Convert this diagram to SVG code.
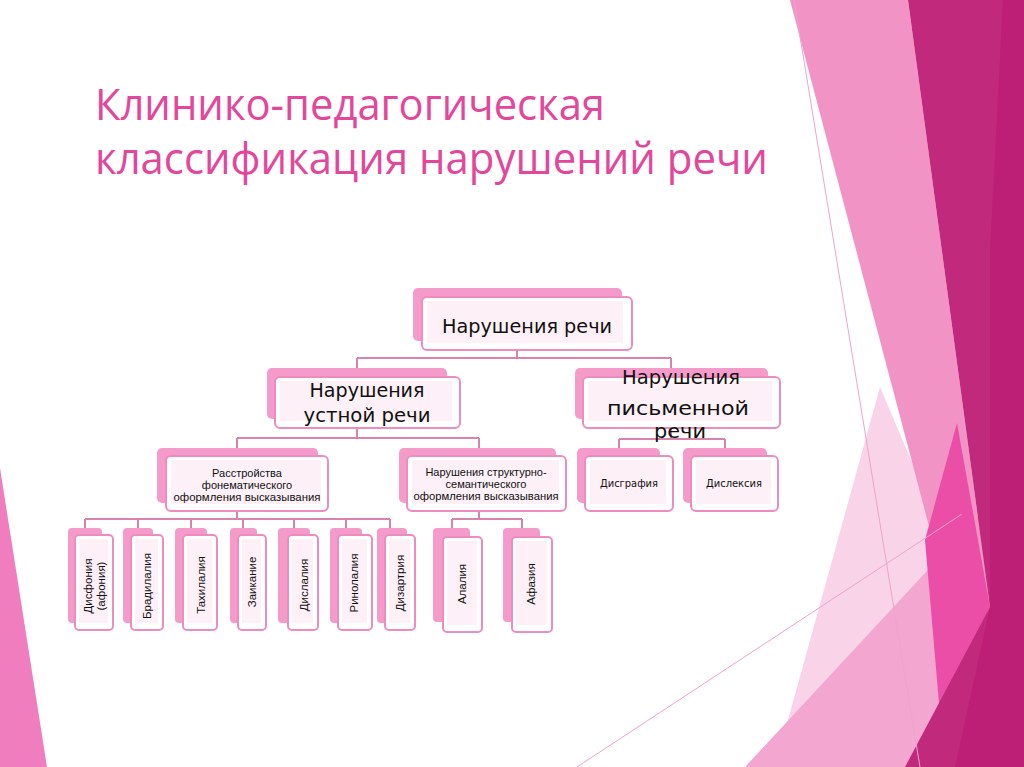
<svg xmlns="http://www.w3.org/2000/svg" width="1024" height="767" viewBox="0 0 1024 767">
<style>
.back{fill:#F49BC9}
.front{fill:#FFFFFF;stroke:#EE8CC2;stroke-width:2}
.inner{fill:#FDF0F7}
.conn{fill:none;stroke:#D883AE;stroke-width:2}
.big{font-family:"DejaVu Sans",sans-serif;font-size:19px;fill:#111;text-anchor:middle}
.mid{font-family:"Liberation Sans",Arial,sans-serif;font-size:11px;fill:#111;text-anchor:middle}
.mid2{font-family:"DejaVu Sans",sans-serif;font-size:10.5px;fill:#111;text-anchor:middle}
.leaf{font-family:"Liberation Sans",Arial,sans-serif;font-size:11.5px;fill:#111;text-anchor:middle}
.title{font-family:"Open Sans",sans-serif;font-size:43px;fill:#E2479C}
</style>
<rect width="1024" height="767" fill="#FFFFFF"/>
<g id="background">
<polygon points="0,468 47,767 0,767" fill="#F07DBE"/>
<polygon points="880,387 945,540 950,767 775,767" fill="#F9D3E7"/>
<polygon points="745,767 990,503 990,767" fill="#F3A6D0"/>
<polygon points="790,0 908,0 990,607 930,530" fill="#F293C6"/>
<polygon points="957,423 990,607 940,715 925,540" fill="#EB4EA7"/>
<polygon points="908,0 1024,0 1024,767 905,767 990,607" fill="#C1297C"/>
<polygon points="1003,0 1024,0 1024,767 955,767 990,607 990,250" fill="#BD1F76"/>
<line x1="794" y1="0" x2="920" y2="767" stroke="#F0A3CB" stroke-width="1"/>
<line x1="577" y1="767" x2="962" y2="514" stroke="#F0A3CB" stroke-width="1"/>
</g>
<g id="title">
<text class="title" x="95" y="120" textLength="510" lengthAdjust="spacingAndGlyphs">Клинико-педагогическая</text>
<text class="title" x="95" y="174" textLength="673" lengthAdjust="spacingAndGlyphs">классификация нарушений речи</text>
</g>
<g id="connectors">
<path class="conn" d="M517,350V358M357,358H671M357,358V368M671,358V368"/>
<path class="conn" d="M357,428V438M237,438H479M237,438V448M479,438V448"/>
<path class="conn" d="M671,428V439M619,439H725M619,439V448M725,439V448"/>
<path class="conn" d="M237,511V519M85,519H390M85,519V528M138,519V528M191,519V528M243,519V528M294,519V528M346,519V528M390,519V528"/>
<path class="conn" d="M479,511V519M452,519H522M452,519V528M522,519V528"/>
</g>
<g id="n-root">
<rect class="back" x="413" y="288" width="209" height="53" rx="5"/>
<rect class="front" x="422" y="297" width="210" height="53" rx="5"/>
<rect class="inner" x="427" y="301" width="196" height="42"/>
<text class="big" x="527" y="333" textLength="170" lengthAdjust="spacingAndGlyphs">Нарушения речи</text>
</g>
<g id="n-oral">
<rect class="back" x="267" y="368" width="180" height="51" rx="5"/>
<rect class="front" x="275" y="377" width="185" height="51" rx="5"/>
<rect class="inner" x="280" y="381" width="172" height="40"/>
<text class="big" x="367" y="397" textLength="115" lengthAdjust="spacingAndGlyphs">Нарушения</text>
<text class="big" x="367" y="422" textLength="127" lengthAdjust="spacingAndGlyphs">устной речи</text>
</g>
<g id="n-written">
<rect class="back" x="575" y="368" width="193" height="51" rx="5"/>
<rect class="front" x="583" y="377" width="197" height="51" rx="5"/>
<rect class="inner" x="588" y="381" width="184" height="40"/>
<text class="big" x="681" y="384" textLength="118" lengthAdjust="spacingAndGlyphs">Нарушения</text>
<text class="big" x="678" y="415" textLength="142" lengthAdjust="spacingAndGlyphs">письменной</text>
<text class="big" x="680" y="438" textLength="52" lengthAdjust="spacingAndGlyphs">речи</text>
</g>
<g id="n-phonematic">
<rect class="back" x="157" y="448" width="161" height="55" rx="5"/>
<rect class="front" x="166" y="456" width="162" height="55" rx="5"/>
<rect class="inner" x="171" y="460" width="150" height="44"/>
<text class="mid" x="247" y="477">Расстройства</text>
<text class="mid" x="247" y="489">фонематического</text>
<text class="mid" x="247" y="501" textLength="147" lengthAdjust="spacingAndGlyphs">оформления высказывания</text>
</g>
<g id="n-structural">
<rect class="back" x="399" y="448" width="157" height="55" rx="5"/>
<rect class="front" x="407" y="456" width="159" height="55" rx="5"/>
<rect class="inner" x="412" y="460" width="147" height="44"/>
<text class="mid" x="486" y="476">Нарушения структурно-</text>
<text class="mid" x="486" y="488">семантического</text>
<text class="mid" x="486" y="500" textLength="145" lengthAdjust="spacingAndGlyphs">оформления высказывания</text>
</g>
<g id="n-dysgraphia">
<rect class="back" x="577" y="448" width="83" height="55" rx="5"/>
<rect class="front" x="585" y="456" width="88" height="55" rx="5"/>
<rect class="inner" x="590" y="460" width="76" height="44"/>
<text class="mid2" x="629" y="487" textLength="58" lengthAdjust="spacingAndGlyphs">Дисграфия</text>
</g>
<g id="n-dyslexia">
<rect class="back" x="683" y="448" width="84" height="55" rx="5"/>
<rect class="front" x="691" y="456" width="87" height="55" rx="5"/>
<rect class="inner" x="696" y="460" width="75" height="44"/>
<text class="mid2" x="734" y="487" textLength="56" lengthAdjust="spacingAndGlyphs">Дислексия</text>
</g>
<g id="n-dysphonia">
<rect class="back" x="68" y="528" width="34" height="95" rx="4"/>
<rect class="front" x="75" y="535" width="38" height="95" rx="4"/>
<rect class="inner" x="79" y="539" width="29" height="84"/>
<text class="leaf" x="88" y="590" transform="rotate(-90 88 586)">Дисфония</text>
<text class="leaf" x="101" y="590" transform="rotate(-90 101 586)">(афония)</text>
</g>
<g id="n-bradylalia">
<rect class="back" x="123" y="528" width="30" height="95" rx="4"/>
<rect class="front" x="131" y="535" width="32" height="95" rx="4"/>
<rect class="inner" x="135" y="539" width="23" height="84"/>
<text class="leaf" x="147" y="590" transform="rotate(-90 147 586)">Брадилалия</text>
</g>
<g id="n-tachylalia">
<rect class="back" x="175" y="528" width="32" height="95" rx="4"/>
<rect class="front" x="183" y="535" width="34" height="95" rx="4"/>
<rect class="inner" x="187" y="539" width="25" height="84"/>
<text class="leaf" x="201" y="589" transform="rotate(-90 201 585)">Тахилалия</text>
</g>
<g id="n-stuttering">
<rect class="back" x="230" y="528" width="27" height="95" rx="4"/>
<rect class="front" x="238" y="535" width="28" height="95" rx="4"/>
<rect class="inner" x="242" y="539" width="19" height="84"/>
<text class="leaf" x="252" y="586" transform="rotate(-90 252 582)">Заикание</text>
</g>
<g id="n-dyslalia">
<rect class="back" x="278" y="528" width="32" height="95" rx="4"/>
<rect class="front" x="288" y="535" width="30" height="95" rx="4"/>
<rect class="inner" x="292" y="539" width="21" height="84"/>
<text class="leaf" x="304" y="589" transform="rotate(-90 304 585)">Дислалия</text>
</g>
<g id="n-rhinolalia">
<rect class="back" x="330" y="528" width="32" height="95" rx="4"/>
<rect class="front" x="338" y="535" width="34" height="95" rx="4"/>
<rect class="inner" x="342" y="539" width="25" height="84"/>
<text class="leaf" x="354" y="587" transform="rotate(-90 354 583)">Ринолалия</text>
</g>
<g id="n-dysarthria">
<rect class="back" x="377" y="528" width="30" height="95" rx="4"/>
<rect class="front" x="385" y="535" width="30" height="95" rx="4"/>
<rect class="inner" x="389" y="539" width="21" height="84"/>
<text class="leaf" x="400" y="587" transform="rotate(-90 400 583)">Дизартрия</text>
</g>
<g id="n-alalia">
<rect class="back" x="433" y="528" width="37" height="94" rx="4"/>
<rect class="front" x="443" y="537" width="39" height="95" rx="4"/>
<rect class="inner" x="447" y="541" width="30" height="84"/>
<text class="leaf" x="462" y="588" transform="rotate(-90 462 584)">Алалия</text>
</g>
<g id="n-aphasia">
<rect class="back" x="503" y="528" width="37" height="94" rx="4"/>
<rect class="front" x="512" y="537" width="40" height="95" rx="4"/>
<rect class="inner" x="516" y="541" width="31" height="84"/>
<text class="leaf" x="531" y="588" transform="rotate(-90 531 584)">Афазия</text>
</g>
</svg>
